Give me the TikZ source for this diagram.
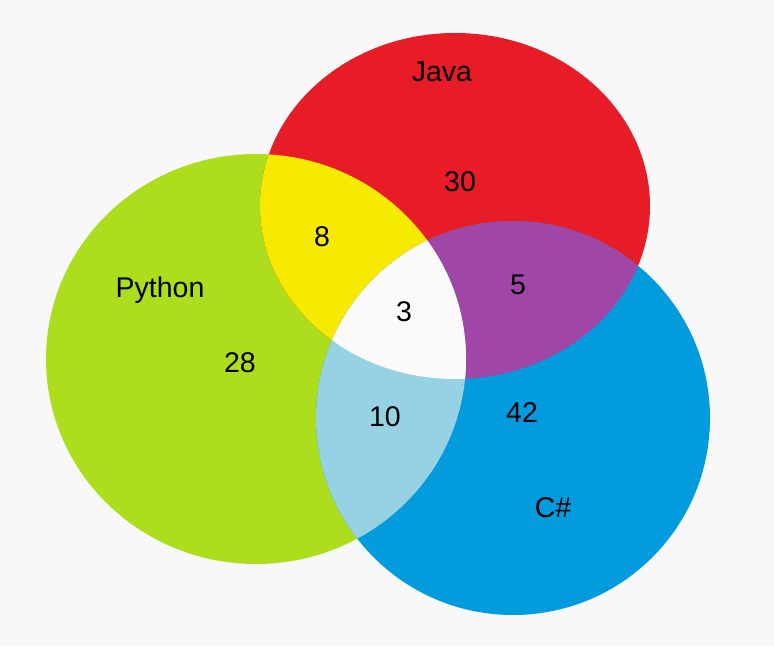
\documentclass[tikz,border=0pt]{standalone}
\usepackage{fontspec}
\setmainfont{Liberation Sans}
\usepackage{tikz}
\usetikzlibrary{positioning,calc}

\definecolor{backgray}{RGB}{248,248,248}
\definecolor{pygreen}{RGB}{173,222,30}
\definecolor{javared}{RGB}{232,28,38}
\definecolor{csblue}{RGB}{2,156,222}
\definecolor{pjyellow}{RGB}{246,235,0}
\definecolor{jcpurple}{RGB}{160,70,166}
\definecolor{pclightblue}{RGB}{150,210,228}
\definecolor{allwhite}{RGB}{250,250,250}

\begin{document}
\begin{tikzpicture}[x=1pt, y=1pt,
  set label/.style={inner sep=0pt, font=\fontsize{28.5}{31}\selectfont}]

\def\python{(256,287) ellipse [x radius=210pt, y radius=205pt]}
\def\java{(455,440) ellipse [x radius=195pt, y radius=173pt]}
\def\csharp{(513,228) circle [radius=197pt]}

\fill [backgray] (0,0) rectangle (774,646);
\useasboundingbox (0,0) rectangle (774,646);

% the three sets
\fill [pygreen] \python;
\fill [javared] \java;
\fill [csblue] \csharp;

% pairwise overlaps
\begin{scope}
  \clip \python;
  \fill [pjyellow] \java;
\end{scope}
\begin{scope}
  \clip \java;
  \fill [jcpurple] \csharp;
\end{scope}
\begin{scope}
  \clip \python;
  \fill [pclightblue] \csharp;
\end{scope}

% all three
\begin{scope}
  \clip \python;
  \clip \java;
  \fill [allwhite] \csharp;
\end{scope}

\foreach \n/\t/\px/\py in {java/Java/442/574, j/30/460/464, pj/8/322/409,
    python/Python/160/356, p/28/240/283, pjc/3/404/334, jc/5/518/361,
    pc/10/385/229, c/42/522/233}
  \node [set label] (label-\n) at (\px,\py) {\t};

\node [set label] (label-csharp) at (553,138) {C\#};

\end{tikzpicture}
\end{document}
